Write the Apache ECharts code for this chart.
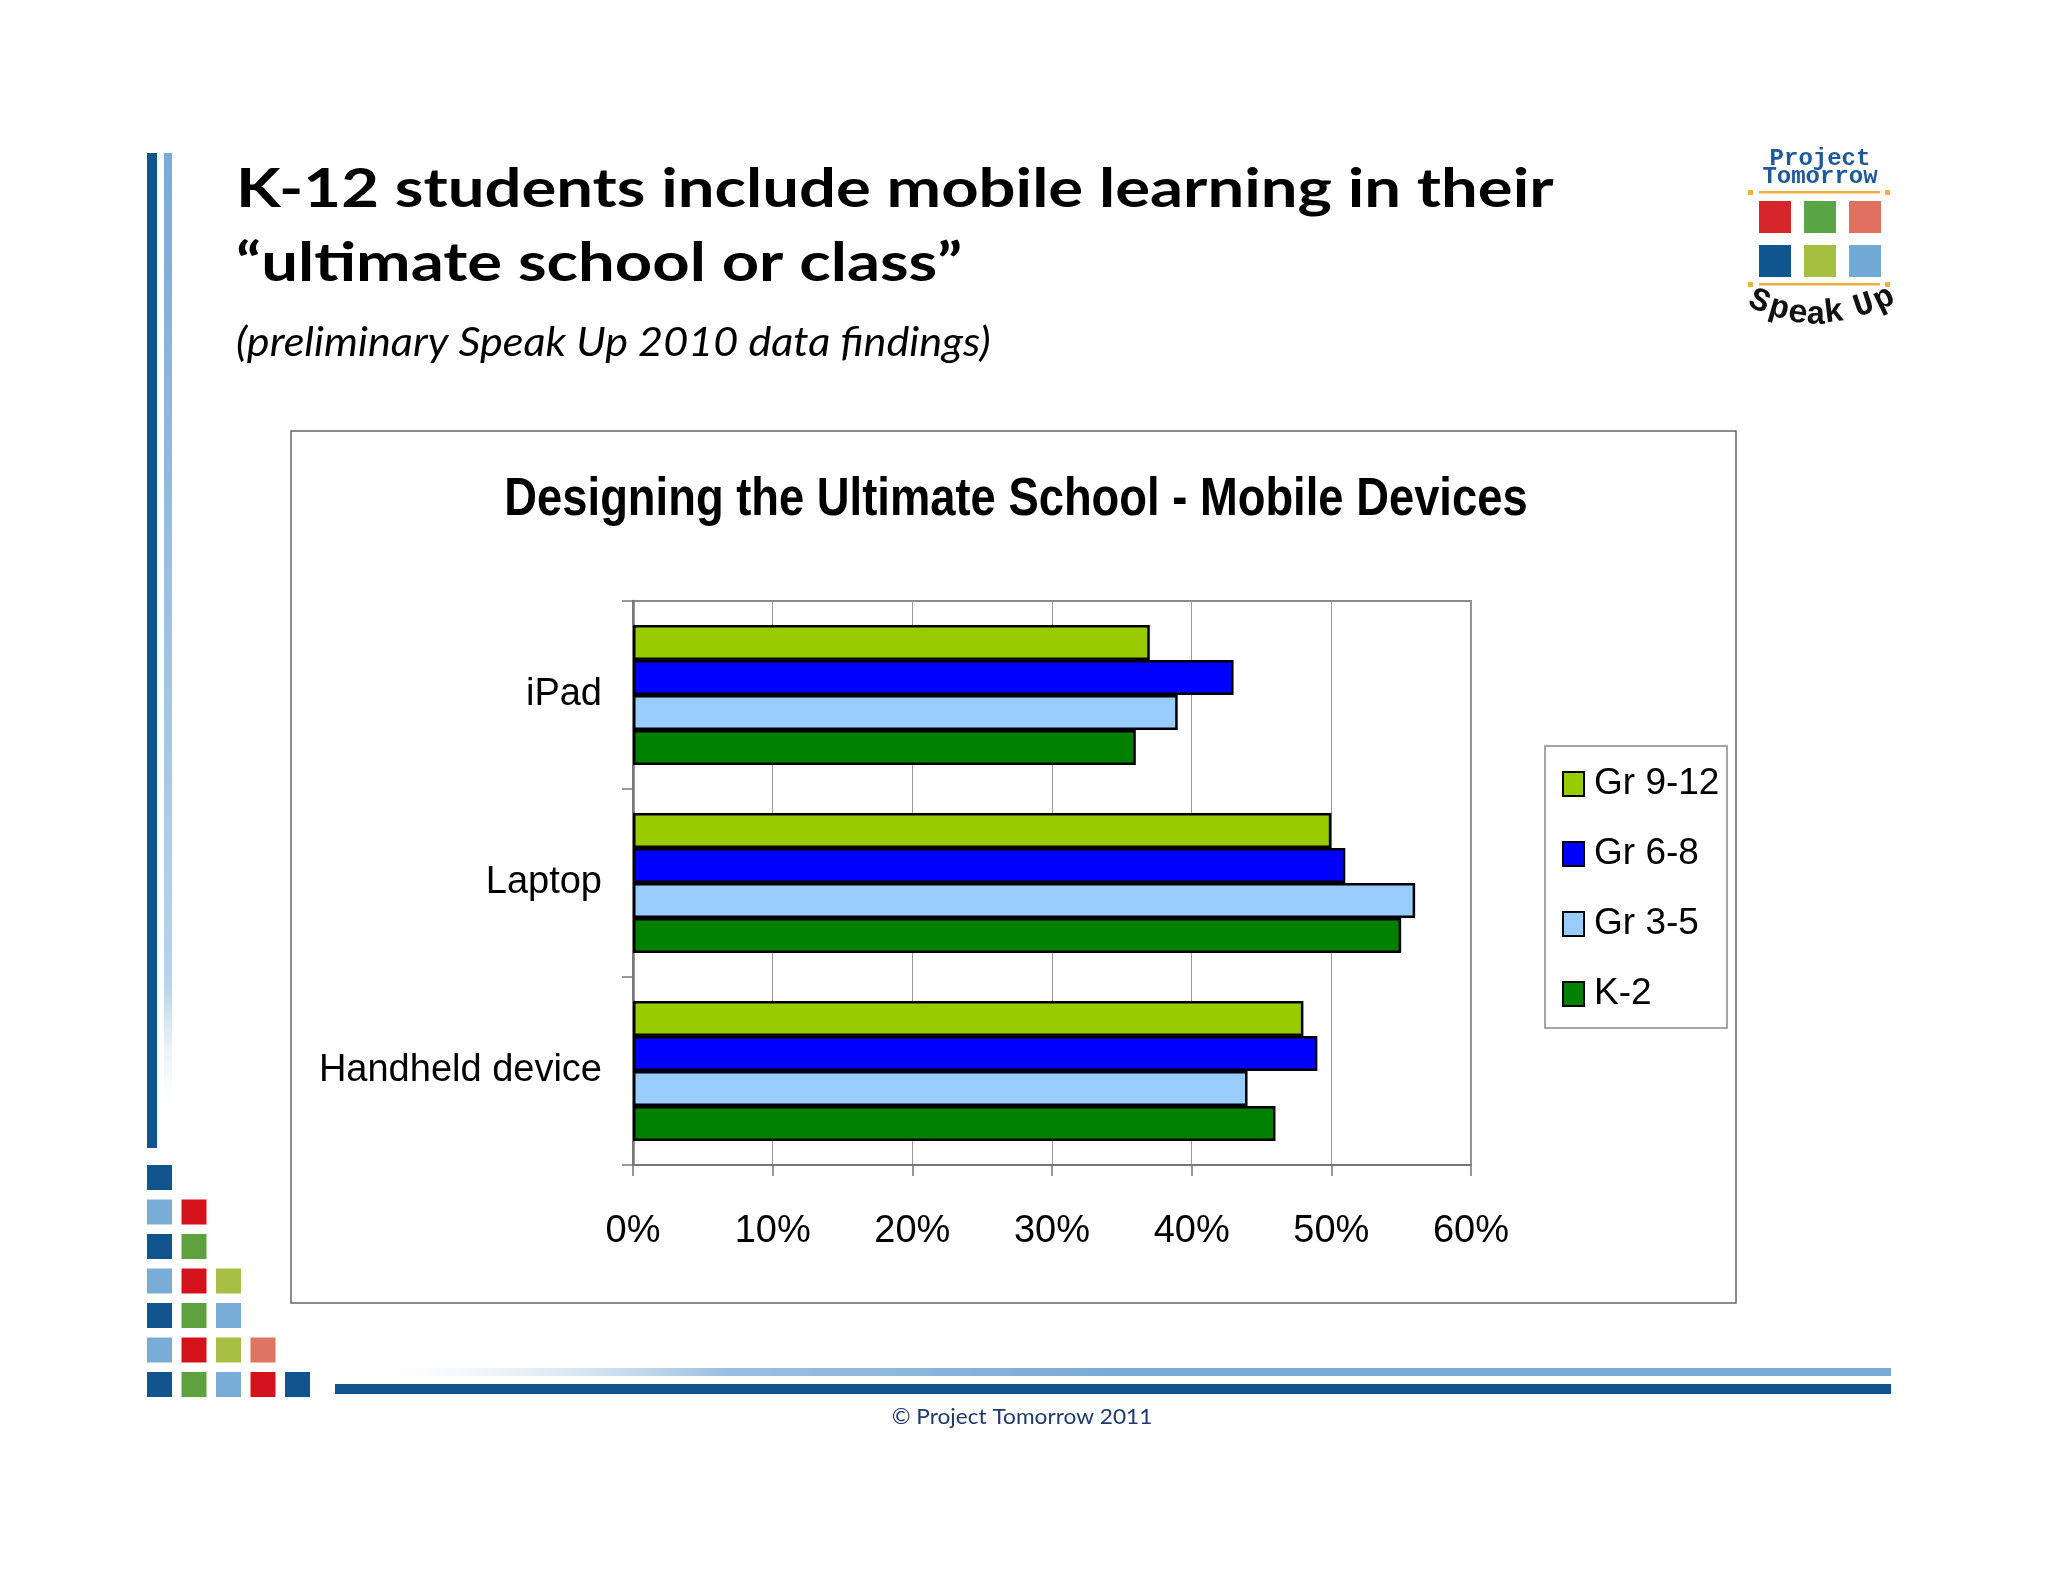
<!DOCTYPE html>
<html>
<head>
<meta charset="utf-8">
<script src="https://cdn.jsdelivr.net/npm/echarts@6/dist/echarts.min.js"></script>
<style>
html,body{margin:0;padding:0;background:#fff;}
#chart{width:2048px;height:1582px;}
</style>
</head>
<body>
<div id="chart"></div>
<script>
// ---- data ----
const categories = ['iPad', 'Laptop', 'Handheld device'];
const seriesNames = ['Gr 9-12', 'Gr 6-8', 'Gr 3-5', 'K-2'];
const gr9to12 = [37, 50, 48];
const gr6to8 = [43, 51, 49];
const gr3to5 = [39, 56, 44];
const k2 = [36, 55, 46];
const xTickValues = [0, 10, 20, 30, 40, 50, 60];
const slideTitle1 = 'K-12 students include mobile learning in their';
const slideTitle2 = '\u201Cultimate school or class\u201D';
const slideSubtitle = '(preliminary Speak Up 2010 data findings)';
const chartTitle = 'Designing the Ultimate School - Mobile Devices';
const footer = '\u00A9 Project Tomorrow 2011';

// ---- styles ----
const seriesColors = ['#99cc00', '#0000ff', '#99ccff', '#008000'];
const seriesData = [gr9to12, gr6to8, gr3to5, k2];
const NARROW = "'Liberation Sans Narrow', 'Liberation Sans', Arial, sans-serif";
const C = {
  dark: '#0f548c', light: '#79acd6', red: '#d3121b',
  green: '#5da23e', yg: '#a7bf45', salmon: '#dd7561'
};

const graphics = [];
// left vertical bars
graphics.push({type: 'rect', shape: {x: 147, y: 153, width: 10, height: 995}, style: {fill: C.dark}});
graphics.push({type: 'rect', shape: {x: 164, y: 153, width: 8, height: 970},
  style: {fill: new echarts.graphic.LinearGradient(0, 0, 0, 1, [
    {offset: 0, color: '#7aaad6'}, {offset: 0.86, color: '#b9d3ea'}, {offset: 1, color: 'rgba(255,255,255,0)'}])}});
// bottom-left squares
const sq = [
  [C.dark],
  [C.light, C.red],
  [C.dark, C.green],
  [C.light, C.red, C.yg],
  [C.dark, C.green, C.light],
  [C.light, C.red, C.yg, C.salmon],
  [C.dark, C.green, C.light, C.red, C.dark]
];
sq.forEach((row, r) => row.forEach((col, c) => {
  graphics.push({type: 'rect', shape: {x: 147 + c * 34.5, y: 1165 + r * 34.5, width: 25, height: 25}, style: {fill: col}});
}));
// bottom horizontal lines
graphics.push({type: 'rect', shape: {x: 333, y: 1368, width: 1558, height: 8},
  style: {fill: new echarts.graphic.LinearGradient(0, 0, 1, 0, [
    {offset: 0, color: 'rgba(255,255,255,0)'}, {offset: 0.25, color: '#9cc0df'}, {offset: 0.5, color: '#7aaad6'}, {offset: 1, color: '#7aaad6'}])}});
graphics.push({type: 'rect', shape: {x: 335, y: 1384, width: 1556, height: 10}, style: {fill: C.dark}});
// footer
graphics.push({type: 'text', x: 1022, y: 1417, scaleX: 1.03, style: {text: footer, x: 0, y: 0, align: 'center', verticalAlign: 'middle',
  font: '22px Lato, "Open Sans", sans-serif', fill: '#1f3a6e'}});
// slide titles
graphics.push({type: 'text', x: 236, y: 190, scaleX: 1.207, style: {text: slideTitle1, x: 0, y: 0, align: 'left', verticalAlign: 'middle',
  font: 'bold 54px Lato, sans-serif', fill: '#000'}});
graphics.push({type: 'text', x: 236, y: 264, scaleX: 1.207, style: {text: slideTitle2, x: 0, y: 0, align: 'left', verticalAlign: 'middle',
  font: 'bold 54px Lato, sans-serif', fill: '#000'}});
graphics.push({type: 'text', x: 236, y: 343, scaleX: 1.08, style: {text: slideSubtitle, x: 0, y: 0, align: 'left', verticalAlign: 'middle',
  font: 'italic 40px Lato, sans-serif', fill: '#000'}});
// chart frame
graphics.push({type: 'rect', shape: {x: 291, y: 431, width: 1445, height: 872}, style: {fill: 'none', stroke: '#666', lineWidth: 1.5}});
// chart title
graphics.push({type: 'text', x: 1016, y: 500, scaleX: 0.84, style: {text: chartTitle, x: 0, y: 0, align: 'center', verticalAlign: 'middle',
  font: 'bold 54px ' + NARROW, fill: '#000'}});
// legend box
graphics.push({type: 'rect', shape: {x: 1545, y: 746, width: 182, height: 282}, style: {fill: '#fff', stroke: '#888', lineWidth: 1.5}});
// logo
graphics.push({type: 'text', style: {text: 'Project', x: 1820, y: 159, align: 'center', verticalAlign: 'middle',
  font: 'bold 24px "Liberation Mono", "DejaVu Sans Mono", monospace', fill: '#1c5a9c'}});
graphics.push({type: 'text', style: {text: 'Tomorrow', x: 1820, y: 177, align: 'center', verticalAlign: 'middle',
  font: 'bold 24px "Liberation Mono", "DejaVu Sans Mono", monospace', fill: '#1c5a9c'}});
[192, 284].forEach(y => {
  graphics.push({type: 'rect', shape: {x: 1759, y: y - 1, width: 121, height: 2.5}, style: {fill: '#f0b040'}});
  graphics.push({type: 'rect', shape: {x: 1748, y: y - 2, width: 5, height: 5}, style: {fill: '#f0b040'}});
  graphics.push({type: 'rect', shape: {x: 1885, y: y - 2, width: 5, height: 5}, style: {fill: '#f0b040'}});
});
const logoSq = [['#d7262b', '#5aa646', '#e07060'], ['#0f5590', '#a5bf3f', '#72aad6']];
logoSq.forEach((row, r) => row.forEach((col, c) => {
  graphics.push({type: 'rect', shape: {x: 1759 + c * 45, y: 201 + r * 44, width: 32, height: 32}, style: {fill: col}});
}));
const speak = [['S', 1759, 302, -0.4], ['p', 1779, 309, -0.28], ['e', 1798, 314, -0.14], ['a', 1816, 316, 0],
  ['k', 1834, 313, 0.12], ['U', 1864, 306, 0.32], ['p', 1884, 299, 0.45]];
speak.forEach(s => {
  graphics.push({type: 'text', x: s[1], y: s[2], rotation: s[3], style: {text: s[0], x: 0, y: 0, align: 'center', verticalAlign: 'middle',
    font: 'bold 33px "Liberation Mono", "DejaVu Sans Mono", monospace', fill: '#111'}});
});

const chart = echarts.init(document.getElementById('chart'), null, {renderer: 'canvas'});
chart.setOption({
  backgroundColor: '#ffffff',
  animation: false,
  graphic: graphics,
  grid: {left: 633, top: 601, width: 838, height: 564, show: true, borderColor: '#8a8a8a', borderWidth: 2, backgroundColor: 'transparent'},
  legend: {
    orient: 'vertical', left: 1562, top: 764, itemWidth: 21, itemHeight: 24, itemGap: 30, padding: 0,
    icon: 'rect',
    textStyle: {fontFamily: NARROW, fontSize: 37, color: '#000', lineHeight: 40, padding: [0, 0, 0, 5]},
    data: seriesNames
  },
  xAxis: {
    type: 'value', min: 0, max: 60, interval: 10,
    axisLine: {show: true, lineStyle: {color: '#777', width: 2}},
    axisTick: {show: true, length: 11, lineStyle: {color: '#777', width: 1.5}},
    axisLabel: {margin: 48, fontFamily: NARROW, fontSize: 38, color: '#000',
      formatter: v => xTickValues.indexOf(v) >= 0 ? v + '%' : ''},
    splitLine: {show: true, lineStyle: {color: '#9a9a9a', width: 1}}
  },
  yAxis: {
    type: 'category', data: categories, inverse: true,
    axisLine: {show: true, lineStyle: {color: '#777', width: 2.5}},
    axisTick: {show: true, length: 11, lineStyle: {color: '#777', width: 1.5}},
    axisLabel: {margin: 31, fontFamily: NARROW, fontSize: 38, color: '#000'},
    splitLine: {show: false}
  },
  series: seriesNames.map((name, i) => ({
    name: name, type: 'bar', data: seriesData[i], barWidth: 35, barGap: '0%',
    itemStyle: {color: seriesColors[i], borderColor: '#000', borderWidth: 2.5}
  }))
});
</script>
</body>
</html>
